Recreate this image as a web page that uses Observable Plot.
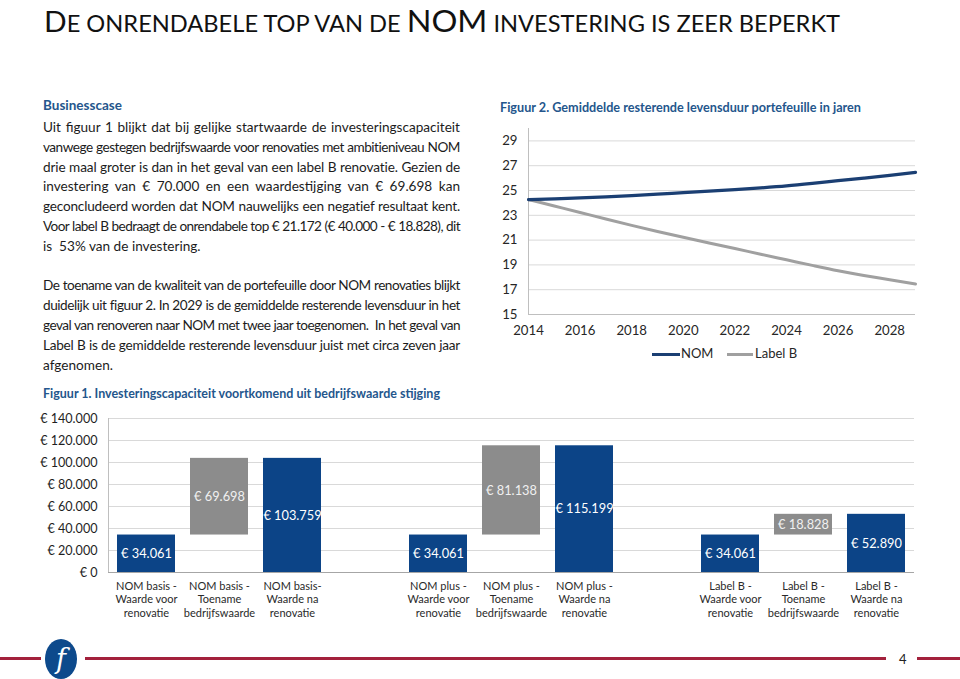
<!DOCTYPE html>
<html>
<head>
<meta charset="utf-8">
<script src="https://cdn.jsdelivr.net/npm/d3@7"></script>
<script src="https://cdn.jsdelivr.net/npm/@observablehq/plot@0.6"></script>
<style>
  html, body { margin: 0; padding: 0; background: #fff; }
  body { width: 960px; height: 679px; position: relative; overflow: hidden; font-family: Lato, "Open Sans", sans-serif; color: #1f1f1f; }
  .abs { position: absolute; }
  #title { left: 44px; top: 6.5px; white-space: nowrap; font-size: 23px; line-height: 26px; color: #111; transform-origin: 0 0; font-weight: 400; }
  #title span { display: inline-block; line-height: 26px; height: 26px; vertical-align: baseline; }
  #title .big { font-size: 29px; }
  #title .nom { font-size: 31.5px; }
  .head { font-weight: 700; color: #24568c; font-size: 13.5px; white-space: nowrap; transform-origin: 0 50%; }
  #body { left: 43px; top: 118px; width: 417px; font-size: 13.6px; line-height: 19.8px; color: #1c1c1c; }
  #body .ln { width: 417px; text-align: justify; text-align-last: justify; height: 19.8px; }
  #body .ln.last { text-align-last: left; }
  #legend2 { font-size: 13px; color: #262626; }
  .sw { position: absolute; height: 3px; }
  .footline { position: absolute; top: 657px; height: 3px; background: #a3213c; }
</style>
</head>
<body>
<div id="title" class="abs"><span class="big">D</span><span class="sc">E ONRENDABELE TOP VAN DE&nbsp;</span><span class="nom">NOM</span><span class="sc">&nbsp;INVESTERING IS ZEER BEPERKT</span></div>

<div class="abs head" id="h1" style="left:43px; top:97px;">Businesscase</div>
<div class="abs" id="body">
  <div class="ln">Uit figuur 1 blijkt dat bij gelijke startwaarde de investeringscapaciteit</div>
  <div class="ln">vanwege gestegen bedrijfswaarde voor renovaties met ambitieniveau NOM</div>
  <div class="ln">drie maal groter is dan in het geval van een label B renovatie. Gezien de</div>
  <div class="ln">investering van € 70.000 en een waardestijging van € 69.698 kan</div>
  <div class="ln">geconcludeerd worden dat NOM nauwelijks een negatief resultaat kent.</div>
  <div class="ln">Voor label B bedraagt de onrendabele top € 21.172 (€ 40.000 - € 18.828), dit</div>
  <div class="ln last">is&nbsp; 53% van de investering.</div>
  <div class="ln last"></div>
  <div class="ln">De toename van de kwaliteit van de portefeuille door NOM renovaties blijkt</div>
  <div class="ln">duidelijk uit figuur 2. In 2029 is de gemiddelde resterende levensduur in het</div>
  <div class="ln">geval van renoveren naar NOM met twee jaar toegenomen.&nbsp; In het geval van</div>
  <div class="ln">Label B is de gemiddelde resterende levensduur juist met circa zeven jaar</div>
  <div class="ln last">afgenomen.</div>
</div>

<div class="abs head" id="h2" style="left:500px; top:98px; font-size:13.8px;">Figuur 2. Gemiddelde resterende levensduur portefeuille in jaren</div>
<div class="abs" id="chart2" style="left:490px; top:116px;"></div>
<div class="abs" id="legend2" style="left:0; top:0; width:960px; height:0;">
  <div class="sw" style="left:652px; top:353px; width:28px; background:#1b3f73;"></div>
  <div class="abs" style="left:681px; top:345px;">NOM</div>
  <div class="sw" style="left:727px; top:353px; width:26px; background:#a0a0a0;"></div>
  <div class="abs" style="left:755px; top:345px;">Label B</div>
</div>

<div class="abs head" id="h3" style="left:43px; top:385px;">Figuur 1. Investeringscapaciteit voortkomend uit bedrijfswaarde stijging</div>
<div class="abs" id="chart1" style="left:0; top:405px;"></div>

<div class="footline" style="left:0; width:41px;"></div>
<div class="footline" style="left:85px; width:801px;"></div>
<div class="footline" style="left:917px; width:43px;"></div>
<div class="abs" style="left:45px; top:639px; width:32px; height:40px; border-radius:50%; background:#0d4a8c; color:#fff; font-family:'DejaVu Serif', serif; font-style:italic; font-size:27px; line-height:40px; text-align:center;">f</div>
<div class="abs" style="left:899px; top:651px; font-size:13px; color:#222;">4</div>

<script>
// ---------- Figure 1 data ----------
const categories1 = [
  "NOM basis - Waarde voor renovatie", "NOM basis - Toename bedrijfswaarde", "NOM basis- Waarde na renovatie", "gap1",
  "NOM plus - Waarde voor renovatie", "NOM plus - Toename bedrijfswaarde", "NOM plus - Waarde na renovatie", "gap2",
  "Label B - Waarde voor renovatie", "Label B - Toename bedrijfswaarde", "Label B - Waarde na renovatie"
];
const tickLabels1 = [
  "NOM basis -\nWaarde voor\nrenovatie", "NOM basis -\nToename\nbedrijfswaarde", "NOM basis-\nWaarde na\nrenovatie", "",
  "NOM plus -\nWaarde voor\nrenovatie", "NOM plus -\nToename\nbedrijfswaarde", "NOM plus -\nWaarde na\nrenovatie", "",
  "Label B -\nWaarde voor\nrenovatie", "Label B -\nToename\nbedrijfswaarde", "Label B -\nWaarde na\nrenovatie"
];
const barCategories = [
  "NOM basis - Waarde voor renovatie", "NOM basis - Toename bedrijfswaarde", "NOM basis- Waarde na renovatie",
  "NOM plus - Waarde voor renovatie", "NOM plus - Toename bedrijfswaarde", "NOM plus - Waarde na renovatie",
  "Label B - Waarde voor renovatie", "Label B - Toename bedrijfswaarde", "Label B - Waarde na renovatie"
];
const barStarts = [0, 34061, 0, 0, 34061, 0, 0, 34061, 0];
const barValues = [34061, 69698, 103759, 34061, 81138, 115199, 34061, 18828, 52890];
const barKinds  = ["waarde", "toename", "waarde", "waarde", "toename", "waarde", "waarde", "toename", "waarde"];
const yTicks1 = [0, 20000, 40000, 60000, 80000, 100000, 120000, 140000];

// ---------- Figure 2 data ----------
const years2 = [2014, 2015, 2016, 2017, 2018, 2019, 2020, 2021, 2022, 2023, 2024, 2025, 2026, 2027, 2028, 2029];
const nomValues = [24.27, 24.33, 24.40, 24.49, 24.59, 24.70, 24.83, 24.95, 25.07, 25.21, 25.37, 25.57, 25.79, 26.00, 26.22, 26.46];
const labelBValues = [24.27, 23.75, 23.23, 22.70, 22.19, 21.70, 21.23, 20.77, 20.32, 19.86, 19.41, 18.96, 18.53, 18.15, 17.81, 17.46];
const yTicks2 = [15, 17, 19, 21, 23, 25, 27, 29];
const xTicks2 = [2014, 2016, 2018, 2020, 2022, 2024, 2026, 2028];

const nl = d3.formatLocale({decimal: ",", thousands: ".", grouping: [3], currency: ["€ ", ""]});
const fmtNum = nl.format(",.0f");
const euro = v => "€ " + fmtNum(v);

const navy = "#0c4487";
const grey = "#8c8c8c";

// ---------- Chart 1 ----------
const bars = barCategories.map((c, i) => ({cat: c, start: barStarts[i], value: barValues[i], kind: barKinds[i]}));
const labelMap = new Map(categories1.map((c, i) => [c, tickLabels1[i]]));

const chart1 = Plot.plot({
  width: 960, height: 215,
  marginLeft: 108, marginRight: 46, marginTop: 13, marginBottom: 48,
  style: {fontFamily: "Lato, sans-serif", color: "#262626", background: "transparent"},
  x: {domain: categories1, paddingInner: 0.2, paddingOuter: 0.11},
  y: {domain: [0, 140000]},
  marks: [
    Plot.gridY(yTicks1.filter(t => t > 0), {stroke: "#d9d9d9", strokeOpacity: 1}),
    Plot.frame({anchor: "left", stroke: "#bfbfbf"}),
    Plot.ruleY([0], {stroke: "#a6a6a6"}),
    Plot.axisY({ticks: yTicks1, tickFormat: euro, tickSize: 0, tickPadding: 11, fontSize: 12.6, label: null, color: "#1f1f1f"}),
    Plot.axisX({tickSize: 0, tickPadding: 8, tickFormat: d => labelMap.get(d), fontSize: 11, lineHeight: 1.22, label: null, color: "#2a2a2a"}),
    Plot.barY(bars, {x: "cat", y1: "start", y2: d => d.start + d.value, fill: d => d.kind === "toename" ? grey : navy}),
    Plot.text(bars, {x: "cat", y: d => d.start + d.value / 2, text: d => euro(d.value), fill: d => d.kind === "toename" ? "#f0f0f0" : "#ffffff", fontSize: 12.8})
  ]
});
document.getElementById("chart1").appendChild(chart1);

// ---------- Chart 2 ----------
const series2 = [
  ...years2.map((y, i) => ({year: y, value: nomValues[i], serie: "NOM"})),
  ...years2.map((y, i) => ({year: y, value: labelBValues[i], serie: "Label B"}))
];
const chart2 = Plot.plot({
  width: 440, height: 225,
  marginLeft: 38, marginRight: 15, marginTop: 12, marginBottom: 27,
  style: {fontFamily: "Lato, sans-serif", color: "#262626", background: "transparent"},
  x: {domain: [2014, 2029]},
  y: {domain: [15, 30]},
  marks: [
    Plot.gridY(yTicks2.filter(t => t > 15), {stroke: "#d9d9d9", strokeOpacity: 1}),
    Plot.ruleY([15], {stroke: "#bfbfbf"}),
    Plot.ruleX([2014], {stroke: "#bfbfbf"}),
    Plot.axisY({ticks: yTicks2, tickSize: 0, tickPadding: 11, fontSize: 13.2, label: null}),
    Plot.axisX({ticks: xTicks2, tickFormat: "d", tickSize: 0, tickPadding: 11, fontSize: 13.2, label: null}),
    Plot.line(series2.filter(d => d.serie === "Label B"), {x: "year", y: "value", stroke: "#a0a0a0", strokeWidth: 3, curve: "monotone-x"}),
    Plot.line(series2.filter(d => d.serie === "NOM"), {x: "year", y: "value", stroke: "#1b3f73", strokeWidth: 3.2, curve: "monotone-x"})
  ]
});
document.getElementById("chart2").appendChild(chart2);

// ---------- fit text widths ----------
function fitScale(el, target) {
  const w = el.getBoundingClientRect().width;
  if (w > 0) el.style.transform = `scaleX(${target / w})`;
}
fitScale(document.getElementById("title"), 796);
fitScale(document.getElementById("h2"), 361);
fitScale(document.getElementById("h3"), 397);

// justified lines: compress letter spacing if the natural width is too wide
const probe = document.createElement("span");
probe.style.cssText = "position:absolute;visibility:hidden;white-space:nowrap;font-size:13.6px;font-family:Lato,sans-serif;";
document.body.appendChild(probe);
document.querySelectorAll("#body .ln").forEach(ln => {
  probe.innerHTML = ln.innerHTML;
  probe.style.letterSpacing = "0px";
  const w = probe.getBoundingClientRect().width;
  const n = ln.textContent.length;
  if (w > 414 && n > 0) {
    ln.style.letterSpacing = (-(w - 414) / n) + "px";
  }
});
probe.remove();
</script>
</body>
</html>
